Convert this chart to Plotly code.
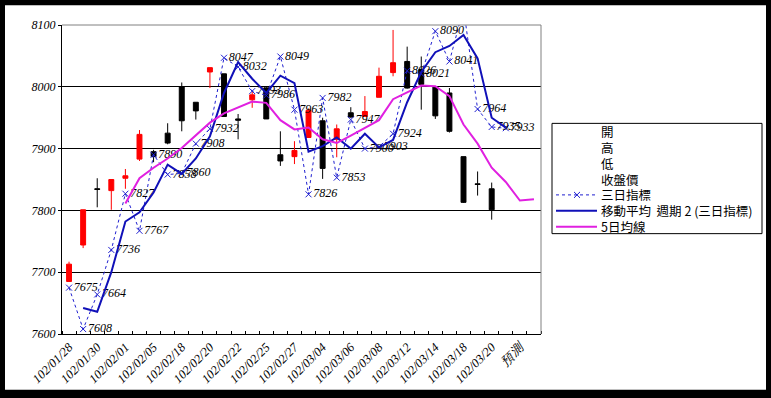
import plotly.graph_objects as go

categories = ["102/01/28", "102/01/29", "102/01/30", "102/01/31", "102/02/01", "102/02/04",
              "102/02/05", "102/02/06", "102/02/18", "102/02/19", "102/02/20", "102/02/21",
              "102/02/22", "102/02/23", "102/02/25", "102/02/26", "102/02/27", "102/03/01",
              "102/03/04", "102/03/05", "102/03/06", "102/03/07", "102/03/08", "102/03/11",
              "102/03/12", "102/03/13", "102/03/14", "102/03/15", "102/03/18", "102/03/19",
              "102/03/20", "102/03/21", "預測", ""]

opens = [7685, 7744, 7835, 7832, 7852, 7883, 7895, 7925, 8000, 7975, 8024, 8021, 7948, 7979, 7998, 7890,
         7887, 7918, 7945, 7915, 7958, 7952, 7983, 8023, 8041, 8028, 8000, 7990, 7887, 7843, 7835]
highs = [7717, 7801, 7852, 7850, 7867, 7930, 7898, 7941, 8007, 7975, 8031, 8021, 7956, 7993, 8000, 7928,
         7912, 7965, 7950, 7939, 7967, 7985, 8031, 8092, 8065, 8049, 8000, 7998, 7887, 7863, 7845]
lows = [7685, 7739, 7805, 7801, 7835, 7880, 7878, 7907, 7928, 7947, 7998, 7952, 7915, 7966, 7948, 7872,
        7875, 7918, 7851, 7886, 7950, 7952, 7983, 8017, 7997, 7963, 7948, 7926, 7812, 7824, 7785]
closes = [7713, 7801, 7834, 7850, 7856, 7923, 7887, 7909, 7945, 7961, 8031, 7952, 7946, 7987, 7948, 7880,
          7897, 7962, 7868, 7932, 7951, 7960, 8017, 8039, 7998, 8004, 7953, 7928, 7813, 7842, 7801]

three_day = [7675, 7608, 7664, 7736, 7827, 7767, 7890, 7858, 7860, 7908, 7932, 8047, 8032, 7993, 7986, 8049,
             7963, 7826, 7982, 7853, 7947, 7900, 7903, 7924, 8026, 8021, 8090, 8041, 8127, 7964, 7935, 7933]

ma2_three_day = [7642, 7636, 7700, 7782, 7797, 7829, 7874, 7859, 7884, 7920, 7990, 8040, 8013, 7990, 8018,
                 8006, 7895, 7904, 7918, 7900, 7924, 7902, 7914, 7975, 8024, 8056, 8066, 8084, 8046, 7950, 7934]

ma5 = [7811, 7852, 7869, 7884, 7901, 7921, 7942, 7957, 7966, 7976, 7974, 7946, 7931, 7934, 7915, 7909,
       7921, 7933, 7946, 7980, 7991, 8002, 8001, 7985, 7939, 7908, 7869, 7846, 7816, 7818]

y_ticks = [7600, 7700, 7800, 7900, 8000, 8100]

legend_names = ["開", "高", "低", "收盤價", "三日指標", "移動平均  週期 2 (三日指標)", "5日均線"]

W, H = 771, 398
ML, MR, MT, MB = 62, 230, 25, 62
PW, PH = W - ML - MR, H - MT - MB


def px_x(p):
    return (p - ML) / PW


def px_y(p):
    return (H - MB - p) / PH


idx = list(range(len(categories)))
num_font = dict(family="Liberation Serif", size=12, color="black", style="italic")
cjk = "Noto Sans CJK TC"

DOT_COLOR = "#1F1FD0"
MA2_COLOR = "#1010B8"
MA5_COLOR = "#E020E0"

fig = go.Figure()

fig.add_trace(go.Candlestick(
    x=idx[:len(opens)], open=opens, high=highs, low=lows, close=closes,
    increasing=dict(fillcolor="#FF0000", line=dict(color="#FF0000", width=1)),
    decreasing=dict(fillcolor="#000000", line=dict(color="#000000", width=1)),
    whiskerwidth=0, showlegend=False, name="K"))

fig.add_trace(go.Scatter(
    x=idx[:len(three_day)], y=three_day, name=legend_names[4], showlegend=False,
    mode="lines+markers+text", text=[str(v) for v in three_day], textposition="middle right",
    textfont=num_font,
    line=dict(color=DOT_COLOR, width=1, dash="dot"),
    marker=dict(symbol="x-thin", size=6, line=dict(color=DOT_COLOR, width=1))))

fig.add_trace(go.Scatter(
    x=idx[1:1 + len(ma2_three_day)], y=ma2_three_day, name=legend_names[5], mode="lines",
    showlegend=False, line=dict(color=MA2_COLOR, width=2)))

fig.add_trace(go.Scatter(
    x=idx[4:4 + len(ma5)], y=ma5, name=legend_names[6], mode="lines",
    showlegend=False, line=dict(color=MA5_COLOR, width=2)))

shapes = [
    dict(type="rect", xref="paper", yref="paper", x0=px_x(5), x1=px_x(766), y0=px_y(392), y1=px_y(5),
         fillcolor="white", line=dict(width=0), layer="below"),
    dict(type="line", xref="paper", yref="paper", x0=0, x1=1, y0=1, y1=1,
         line=dict(color="#808080", width=1), layer="above"),
    dict(type="line", xref="paper", yref="paper", x0=1, x1=1, y0=0, y1=1,
         line=dict(color="#808080", width=1), layer="above"),
    # legend box
    dict(type="rect", xref="paper", yref="paper", x0=px_x(552), x1=px_x(762), y0=px_y(235), y1=px_y(124),
         fillcolor="white", line=dict(color="black", width=1), layer="above"),
]

annotations = []
leg_top, leg_step = 132, 16
symbol_styles = [None, None, None, None,
                 dict(color=DOT_COLOR, width=1, dash="dot"),
                 dict(color=MA2_COLOR, width=2),
                 dict(color=MA5_COLOR, width=2)]
for i, name in enumerate(legend_names):
    cy = leg_top + i * leg_step
    annotations.append(dict(xref="paper", yref="paper", x=px_x(599), y=px_y(cy), xanchor="left",
                            yanchor="middle", showarrow=False, text=name,
                            font=dict(family=cjk, size=12.5, color="black")))
    st = symbol_styles[i]
    if st is not None:
        shapes.append(dict(type="line", xref="paper", yref="paper", x0=px_x(556), x1=px_x(597),
                           y0=px_y(cy), y1=px_y(cy), line=st, layer="above"))
        if st.get("dash") == "dot":
            for a, b in ((-3, 3), (3, -3)):
                shapes.append(dict(type="line", xref="paper", yref="paper",
                                   x0=px_x(577 - 3), x1=px_x(577 + 3),
                                   y0=px_y(cy + a), y1=px_y(cy + b),
                                   line=dict(color=DOT_COLOR, width=1), layer="above"))

fig.update_layout(
    width=W, height=H, autosize=False,
    margin=dict(l=ML, r=MR, t=MT, b=MB, pad=0),
    paper_bgcolor="black", plot_bgcolor="white",
    shapes=shapes, annotations=annotations,
    showlegend=False, boxgap=0.5,
    xaxis=dict(range=[-0.5, len(categories) - 0.5], tickmode="array",
               tickvals=idx[::2], ticktext=categories[::2], tickangle=-45,
               tickfont=dict(family="Liberation Serif", size=12.5, color="black", style="italic"),
               showline=True, linecolor="black", linewidth=1, ticks="", showgrid=False,
               zeroline=False, rangeslider=dict(visible=False),
               minor=dict(tick0=-0.5, dtick=1, ticks="inside", ticklen=3, tickcolor="black",
                          showgrid=False)),
    yaxis=dict(range=[y_ticks[0], y_ticks[-1]], tickmode="array", tickvals=y_ticks,
               tickfont=num_font, showline=True, linecolor="black", linewidth=1,
               ticks="outside", ticklen=3, tickcolor="black",
               showgrid=True, gridcolor="black", gridwidth=1, zeroline=False),
)

fig.write_html("out.html", config={"displayModeBar": False, "staticPlot": True},
               post_script="document.body.style.margin='0';document.body.style.overflow='hidden';")
